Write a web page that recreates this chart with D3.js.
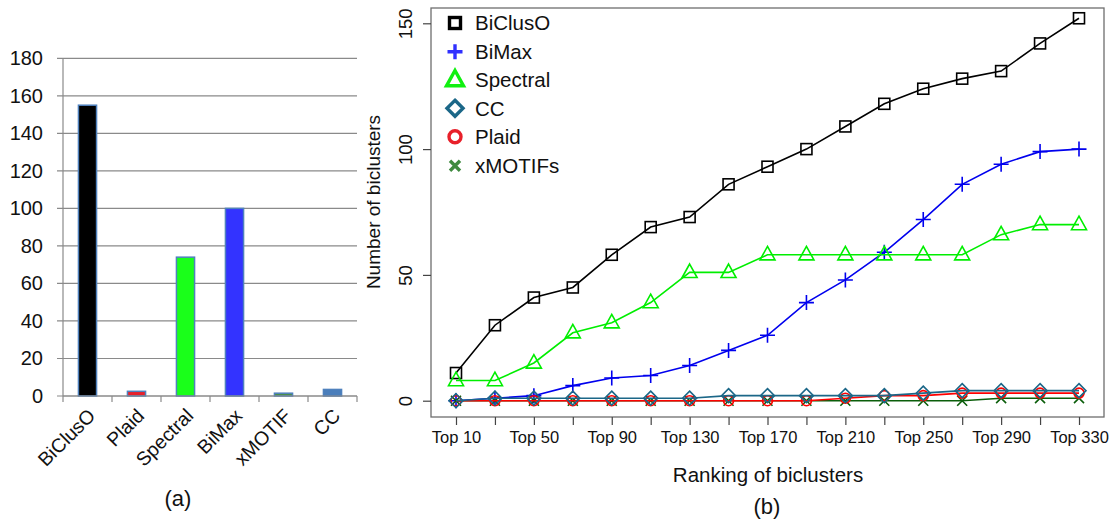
<!DOCTYPE html>
<html><head><meta charset="utf-8">
<script src="https://cdn.jsdelivr.net/npm/d3@7/dist/d3.min.js"></script>
<style>
body{margin:0;background:#fff;}
svg{display:block;font-family:"Liberation Sans",Arial,sans-serif;}
</style></head>
<body>
<svg id="c" width="1116" height="525"></svg>
<script>
// ---- Panel (a) data ----
const barCategories = ["BiClusO","Plaid","Spectral","BiMax","xMOTIF","CC"];
const barValues = [155, 2.5, 74, 100, 1.5, 3.5];
const barColors = ["#000000","#e8202a","#1aff1a","#3333ff","#4a8f4a","#4a7ebb"];
const barTicks = [0,20,40,60,80,100,120,140,160,180];

// ---- Panel (b) data ----
const rankLabels = ["Top 10","Top 30","Top 50","Top 70","Top 90","Top 110","Top 130","Top 150","Top 170","Top 190","Top 210","Top 230","Top 250","Top 270","Top 290","Top 310","Top 330"];
const biclusO  = [11,30,41,45,58,69,73,86,93,100,109,118,124,128,131,142,152];
const biMax    = [0,1,2,6,9,10,14,20,26,39,48,59,72,86,94,99,100];
const spectral = [8,8,15,27,31,39,51,51,58,58,58,58,58,58,66,70,70];
const cc       = [0,1,1,1,1,1,1,2,2,2,2,2,3,4,4,4,4];
const plaid    = [0,0,0,0,0,0,0,0,0,0,1,2,2,3,3,3,3];
const xMotifs  = [0,0,0,0,0,0,0,0,0,0,0,0,0,0,1,1,1];
const lineTicks = [0,50,100,150];
const legendNames = ["BiClusO","BiMax","Spectral","CC","Plaid","xMOTIFs"];

const svg = d3.select("#c");

// ================= Panel (a) =================
const ax = d3.scaleBand().domain(barCategories).range([63,357]).paddingInner(0.63).paddingOuter(0.315);
const ay = d3.scaleLinear().domain([0,180]).range([396,58.3]);
const ga = svg.append("g");
ga.selectAll("line.grid").data(barTicks).join("line")
  .attr("x1",57).attr("x2",357).attr("y1",d=>ay(d)).attr("y2",d=>ay(d))
  .attr("stroke","#8a8a8a").attr("stroke-width",1.2);
ga.append("line").attr("x1",63).attr("x2",63).attr("y1",ay(180)).attr("y2",ay(0)).attr("stroke","#8a8a8a").attr("stroke-width",1.2);
ga.selectAll("text.yl").data(barTicks).join("text")
  .attr("x",43).attr("y",d=>ay(d)).attr("dy","0.35em").attr("text-anchor","end")
  .attr("font-size",20).attr("fill","#111").text(d=>d);
ga.selectAll("rect.bar").data(barCategories).join("rect")
  .attr("x",d=>ax(d)).attr("width",ax.bandwidth())
  .attr("y",(d,i)=>ay(barValues[i])).attr("height",(d,i)=>ay(0)-ay(barValues[i]))
  .attr("fill",(d,i)=>barColors[i]).attr("stroke","#4f81bd").attr("stroke-width",1.5);
ga.append("line").attr("x1",63).attr("x2",357).attr("y1",ay(0)).attr("y2",ay(0)).attr("stroke","#8a8a8a").attr("stroke-width",1.2);
const step = ax.step();
const catEdges = d3.range(barCategories.length+1).map(i=>63+i*step);
ga.selectAll("line.xt").data(catEdges).join("line")
  .attr("x1",d=>d).attr("x2",d=>d).attr("y1",ay(0)).attr("y2",ay(0)+6)
  .attr("stroke","#8a8a8a").attr("stroke-width",1.2);
ga.selectAll("text.xl").data(barCategories).join("text")
  .attr("transform",d=>`translate(${ax(d)+ax.bandwidth()/2+9},${ay(0)+21}) rotate(-45)`)
  .attr("text-anchor","end").attr("font-size",19.5).attr("fill","#111").text(d=>d);
svg.append("text").attr("x",178).attr("y",506).attr("text-anchor","middle").attr("font-size",22).attr("fill","#111").text("(a)");

// ================= Panel (b) =================
const bx = d3.scalePoint().domain(rankLabels).range([456,1079]);
const by = d3.scaleLinear().domain([0,150]).range([400.7,23.3]);
const gb = svg.append("g");
gb.append("rect").attr("x",431).attr("y",8).attr("width",1104-431).attr("height",417-8)
  .attr("fill","none").attr("stroke","#6e6e6e").attr("stroke-width",1.3);
const xAxis = d3.axisBottom(bx).tickSize(8).tickPadding(6)
  .tickFormat((d,i)=> i%2===0 ? d : "");
const gx = gb.append("g").attr("transform","translate(0,417)").call(xAxis);
gx.select(".domain").remove();
gx.selectAll(".tick line").attr("stroke","#444").attr("stroke-width",1.2);
gx.selectAll(".tick text").attr("font-size",16.5).attr("fill","#111").attr("font-family","Liberation Sans, Arial, sans-serif");
const yAxis = d3.axisLeft(by).tickValues(lineTicks).tickSize(8).tickFormat(d3.format("d"));
const gy = gb.append("g").attr("transform","translate(431,0)").call(yAxis);
gy.select(".domain").remove();
gy.selectAll(".tick line").attr("stroke","#444").attr("stroke-width",1.2);
gy.selectAll(".tick text").remove();
gy.selectAll(".tick").append("text")
  .attr("transform","translate(-25,0) rotate(-90)")
  .attr("text-anchor","middle").attr("dy","0.35em")
  .attr("font-size",18.5).attr("fill","#111").attr("font-family","Liberation Sans, Arial, sans-serif")
  .text(d=>d);
svg.append("text").attr("transform","translate(373,202) rotate(-90)").attr("text-anchor","middle")
  .attr("dy","0.35em").attr("font-size",19).attr("fill","#111").text("Number of biclusters");
svg.append("text").attr("x",768).attr("y",482).attr("text-anchor","middle")
  .attr("font-size",20.5).attr("fill","#111").text("Ranking of biclusters");
svg.append("text").attr("x",767).attr("y",514).attr("text-anchor","middle").attr("font-size",22).attr("fill","#111").text("(b)");

function drawSymbol(g, type, x, y, color, sw, s){
  if(type==="square"){
    g.append("rect").attr("x",x-s/2).attr("y",y-s/2).attr("width",s).attr("height",s)
      .attr("fill","none").attr("stroke",color).attr("stroke-width",sw);
  } else if(type==="plus"){
    g.append("path").attr("d",`M${x-s/2},${y}H${x+s/2}M${x},${y-s/2}V${y+s/2}`)
      .attr("stroke",color).attr("stroke-width",sw).attr("fill","none");
  } else if(type==="triangle"){
    const h=s*0.9;
    g.append("path").attr("d",`M${x},${y-h*0.62}L${x+s/2},${y+h*0.38}L${x-s/2},${y+h*0.38}Z`)
      .attr("stroke",color).attr("stroke-width",sw).attr("fill","none");
  } else if(type==="diamond"){
    g.append("path").attr("d",`M${x},${y-s/2}L${x+s/2},${y}L${x},${y+s/2}L${x-s/2},${y}Z`)
      .attr("stroke",color).attr("stroke-width",sw).attr("fill","none");
  } else if(type==="circle"){
    g.append("circle").attr("cx",x).attr("cy",y).attr("r",s/2)
      .attr("stroke",color).attr("stroke-width",sw).attr("fill","none");
  } else if(type==="cross"){
    const r=s/2;
    g.append("path").attr("d",`M${x-r},${y-r}L${x+r},${y+r}M${x-r},${y+r}L${x+r},${y-r}`)
      .attr("stroke",color).attr("stroke-width",sw).attr("fill","none");
  }
}

const series = [
  {name:"BiClusO", vals:biclusO, color:"#000000", sym:"square", size:11},
  {name:"BiMax", vals:biMax, color:"#0000ee", sym:"plus", size:15},
  {name:"Spectral", vals:spectral, color:"#00ee00", sym:"triangle", size:15},
  {name:"xMOTIFs", vals:xMotifs, color:"#0b5e0b", sym:"cross", size:10},
  {name:"Plaid", vals:plaid, color:"#ff0000", sym:"circle", size:10},
  {name:"CC", vals:cc, color:"#1b6788", sym:"diamond", size:14}
];
const line = d3.line().x((d,i)=>bx(rankLabels[i])).y(d=>by(d));
series.forEach(s=>{
  const g = gb.append("g");
  g.append("path").attr("d",line(s.vals)).attr("fill","none").attr("stroke",s.color).attr("stroke-width",1.6);
  s.vals.forEach((v,i)=>drawSymbol(g, s.sym, bx(rankLabels[i]), by(v), s.color, 1.6, s.size));
});

const legendInfo = {
  "BiClusO":{color:"#000000",sym:"square",size:11},
  "BiMax":{color:"#3030ff",sym:"plus",size:15},
  "Spectral":{color:"#10f010",sym:"triangle",size:17},
  "CC":{color:"#1b6788",sym:"diamond",size:16},
  "Plaid":{color:"#e8202a",sym:"circle",size:12},
  "xMOTIFs":{color:"#3f8a3f",sym:"cross",size:10}
};
const legendY = [23,51.7,80,108.3,136.7,165.7];
const gl = svg.append("g");
legendNames.forEach((n,i)=>{
  const li = legendInfo[n];
  drawSymbol(gl, li.sym, 455, legendY[i], li.color, 3.4, li.size);
  gl.append("text").attr("x",475).attr("y",legendY[i]).attr("dy","0.36em")
    .attr("font-size",20.5).attr("fill","#111").text(n);
});
</script>
</body></html>
